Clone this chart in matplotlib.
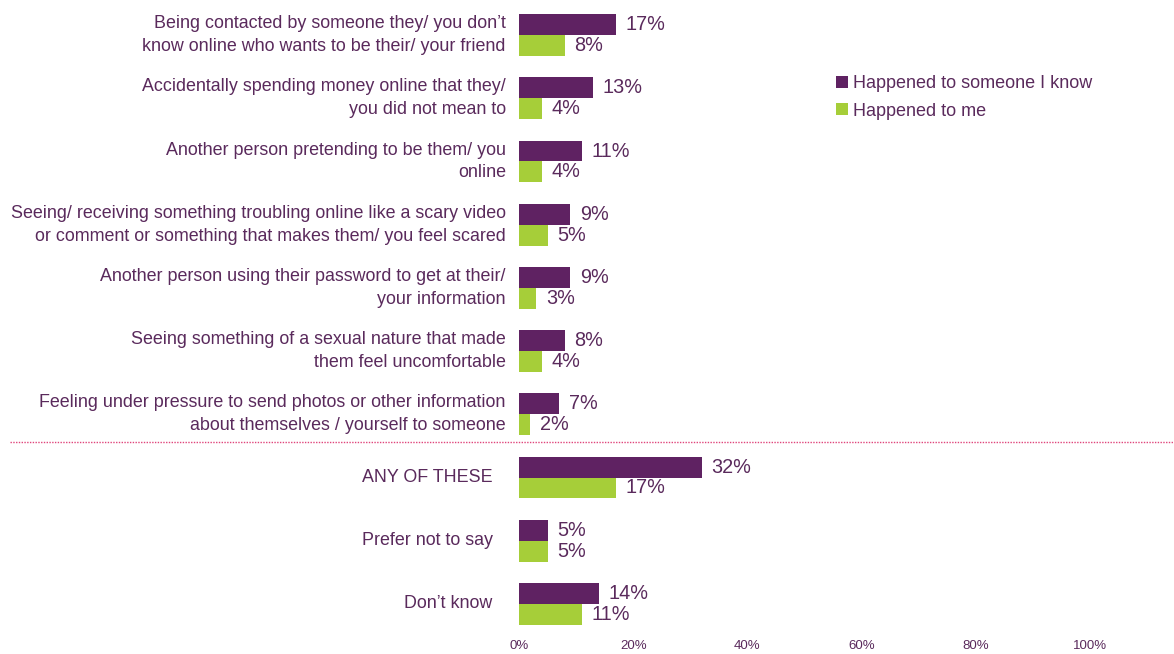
import matplotlib
matplotlib.use("Agg")
import matplotlib.pyplot as plt

categories = [
    "Being contacted by someone they/ you don\u2019t\nknow online who wants to be their/ your friend",
    "Accidentally spending money online that they/\nyou did not mean to",
    "Another person pretending to be them/ you\nonline",
    "Seeing/ receiving something troubling online like a scary video\nor comment or something that makes them/ you feel scared",
    "Another person using their password to get at their/\nyour information",
    "Seeing something of a sexual nature that made\nthem feel uncomfortable",
    "Feeling under pressure to send photos or other information\nabout themselves / yourself to someone",
    "ANY OF THESE",
    "Prefer not to say",
    "Don\u2019t know",
]
someone_i_know = [17, 13, 11, 9, 9, 8, 7, 32, 5, 14]
happened_to_me = [8, 4, 4, 5, 3, 4, 2, 17, 5, 11]
series_names = ["Happened to someone I know", "Happened to me"]
xticks = [0, 20, 40, 60, 80, 100]

purple = "#5F2262"
green = "#A6CE39"
text_col = "#5A2A5C"

plt.rcParams['font.family'] = ['Liberation Sans', 'DejaVu Sans']

fig = plt.figure(figsize=(11.74, 6.54), dpi=100)
W, H = 1174, 654
left_px, right_px = 519, 1090
top_px, bot_px = 3.4, 635.6
ax = fig.add_axes([left_px / W, 1 - bot_px / H, (right_px - left_px) / W, (bot_px - top_px) / H])

n = len(categories)
ys = list(range(n))
bh = 0.33
b1 = ax.barh([y - bh / 2 for y in ys], someone_i_know, height=bh, color=purple, label=series_names[0])
b2 = ax.barh([y + bh / 2 for y in ys], happened_to_me, height=bh, color=green, label=series_names[1])

ax.set_xlim(0, 100)
ax.set_ylim(n - 0.5, -0.5)

for y, v in zip(ys, someone_i_know):
    ax.text(v + 1.7, y - bh / 2, f"{v}%", va="center", ha="left", fontsize=14.3, color=text_col)
for y, v in zip(ys, happened_to_me):
    ax.text(v + 1.7, y + bh / 2, f"{v}%", va="center", ha="left", fontsize=14.3, color=text_col)

for i, (y, lab) in enumerate(zip(ys, categories)):
    xoff = -2.3 if i < 7 else -4.6
    ax.text(xoff, y, lab, ha="right", va="center", fontsize=12.85, color=text_col, linespacing=1.45)

ax.set_yticks([])
ax.set_xticks(xticks)
ax.set_xticklabels([f"{t}%" for t in xticks], fontsize=9.5, color=text_col)
ax.tick_params(axis="x", length=0, pad=3)
for s in ax.spines.values():
    s.set_visible(False)

# dotted separator line
y_sep = 6.44
line = plt.Line2D([10 / W, 1.0], [1 - (top_px + (y_sep + 0.5) * (bot_px - top_px) / n) / H] * 2,
                  transform=fig.transFigure, color="#E0457B", linestyle=(0, (1, 1)), linewidth=1.0)
fig.add_artist(line)

leg = fig.legend(handles=[b1, b2], labels=series_names, loc="upper left",
                 bbox_to_anchor=(836 / W, 1 - 75 / H), frameon=False, fontsize=12.95,
                 handlelength=0.65, handleheight=0.65, handletextpad=0.3, labelspacing=0.6,
                 borderaxespad=0, borderpad=0)
for t in leg.get_texts():
    t.set_color(text_col)

fig.savefig("out.png", dpi=100)
